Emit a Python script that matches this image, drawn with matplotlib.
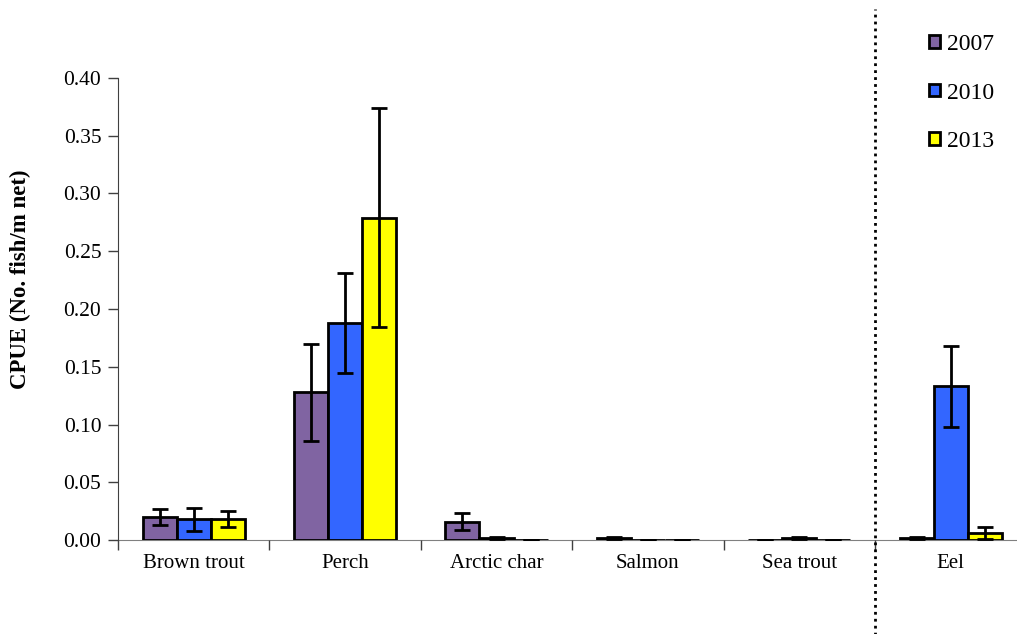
import matplotlib.pyplot as plt
import numpy as np

# Data
species = ["Brown trout", "Perch", "Arctic char", "Salmon", "Sea trout", "Eel"]
years = ["2007", "2010", "2013"]
colors = ["#8064A2", "#3366FF", "#FFFF00"]

cpue_2007 = [0.020, 0.128, 0.016, 0.002, 0.000, 0.002]
cpue_2010 = [0.018, 0.188, 0.002, 0.000, 0.002, 0.133]
cpue_2013 = [0.018, 0.279, 0.000, 0.000, 0.000, 0.006]

err_2007 = [0.007, 0.042, 0.007, 0.001, 0.000, 0.001]
err_2010 = [0.010, 0.043, 0.001, 0.000, 0.001, 0.035]
err_2013 = [0.007, 0.095, 0.000, 0.000, 0.000, 0.005]

values = [cpue_2007, cpue_2010, cpue_2013]
errors = [err_2007, err_2010, err_2013]

plt.rcParams['font.family'] = ['Liberation Serif', 'DejaVu Serif']

fig = plt.figure(figsize=(10.17, 6.34), dpi=100)
ax = fig.add_axes([118 / 1017, (634 - 540) / 634, (1017 - 118) / 1017, 462 / 634])

x = np.arange(len(species))
width = 0.225
for i in range(3):
    pos = x + (i - 1) * width
    ax.bar(pos, values[i], width, color=colors[i], edgecolor="black",
           linewidth=2, label=years[i], zorder=2)
    ax.errorbar(pos, values[i], yerr=errors[i], fmt="none", ecolor="black",
                elinewidth=2, capsize=6, capthick=2, zorder=3)

ax.set_xlim(-0.5, -0.5 + 899 / 151.4)
ax.set_ylim(0, 0.40)
ax.set_yticks(np.arange(0, 0.401, 0.05))
ax.set_yticklabels([f"{v:.2f}" for v in np.arange(0, 0.401, 0.05)])

# ticks at category boundaries, labels at centres
ax.set_xticks(np.arange(-0.5, 5.0, 1.0))
ax.set_xticklabels([])
ax.set_xticks(x, minor=True)
ax.set_xticklabels(species, minor=True)
ax.tick_params(axis="x", which="minor", length=0, pad=10, labelsize=15)
ax.tick_params(axis="x", which="major", length=7, width=1, color="#404040")
ax.tick_params(axis="y", length=7, width=1, color="#404040", labelsize=15.5, pad=5)

for s in ["top", "right"]:
    ax.spines[s].set_visible(False)
ax.spines["left"].set_color("#404040")
ax.spines["bottom"].set_color("#808080")
ax.spines["bottom"].set_zorder(1)

ax.set_ylabel("CPUE (No. fish/m net)", fontsize=16.5, fontweight="bold")
ax.yaxis.set_label_coords(-0.097, 0.565)

# dotted separator between sea fish and eel
ax.plot([4.5, 4.5], [-0.205, 1.15], transform=ax.get_xaxis_transform(),
        color="black", linestyle=(0, (1, 1.5)), linewidth=2, clip_on=False)

leg = fig.legend(loc="upper left", bbox_to_anchor=(0.893, 0.98), frameon=False,
                 fontsize=17, handlelength=0.45, handleheight=0.45,
                 handletextpad=0.3, labelspacing=1.17)

fig.savefig("out.png", dpi=100)
